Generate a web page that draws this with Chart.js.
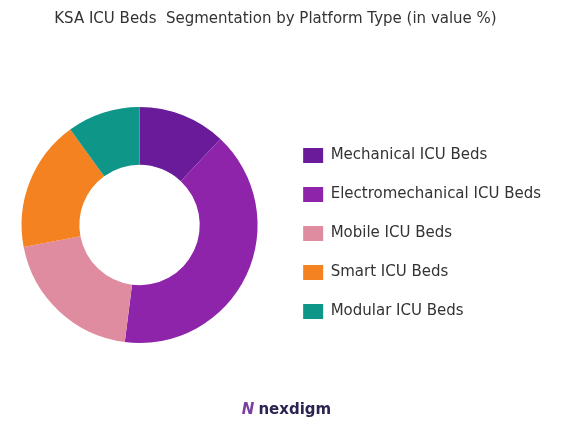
<!DOCTYPE html>
<html>
<head>
<meta charset="utf-8">
<script src="https://cdn.jsdelivr.net/npm/chart.js@4"></script>
<style>
  body { margin: 0; background: #fff; }
  #wrap { position: relative; width: 573px; height: 430px; }
  #logo { position: absolute; left: 0; width: 573px; top: 400px; text-align: center;
          font-family: 'DejaVu Sans', sans-serif; font-size: 15px; font-weight: 600; color: #2b2350; }
  #logo span { color: #7b3fa0; font-style: italic; margin-right: 4px; }
</style>
</head>
<body>
<div id="wrap">
  <canvas id="grafico" width="573" height="430"></canvas>
  <div id="logo"><span>N</span>nexdigm</div>
</div>
<script>
const categorias = ['Mechanical ICU Beds', 'Electromechanical ICU Beds', 'Mobile ICU Beds', 'Smart ICU Beds', 'Modular ICU Beds'];
const valores = [12, 40, 20, 18, 10];
const cores = ['#6a1b9a', '#8e24aa', '#e08ca0', '#f58220', '#0e9688'];

new Chart(document.getElementById('grafico'), {
  type: 'doughnut',
  data: {
    labels: categorias,
    datasets: [{
      data: valores,
      backgroundColor: cores,
      borderWidth: 0
    }]
  },
  options: {
    responsive: false,
    animation: false,
    cutout: '51%',
    layout: { padding: { top: 0, bottom: 87, left: 0, right: 22 } },
    plugins: {
      title: {
        display: true,
        text: 'KSA ICU Beds  Segmentation by Platform Type (in value %)',
        color: '#333',
        font: { size: 15, family: 'DejaVu Sans', weight: 'normal' },
        padding: { top: 10, bottom: 79 }
      },
      legend: {
        position: 'right',
        align: 'end',
        labels: {
          color: '#333',
          font: { size: 15, family: 'DejaVu Sans' },
          boxWidth: 20,
          boxHeight: 15,
          padding: 24
        }
      },
      tooltip: { enabled: false }
    }
  }
});
</script>
</body>
</html>
